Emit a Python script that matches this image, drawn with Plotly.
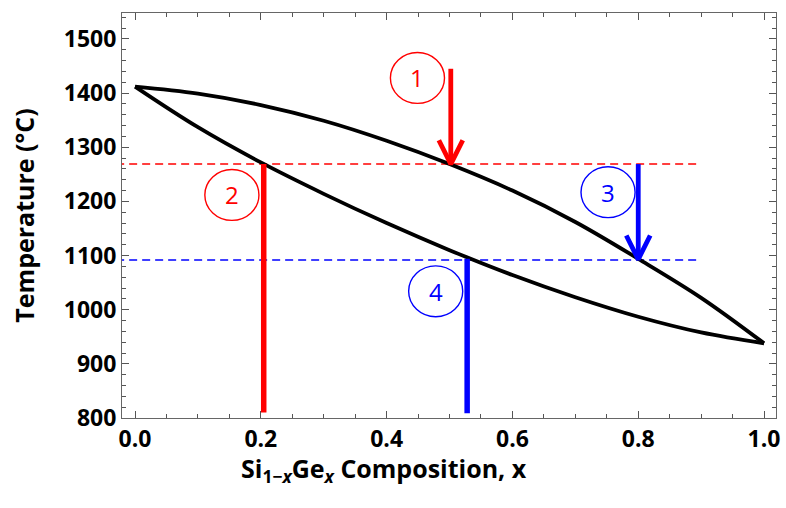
import plotly.graph_objects as go

# Liquidus (upper) and solidus (lower) curves
comp = [0.0, 0.1, 0.2, 0.3, 0.4, 0.5, 0.6, 0.7, 0.8, 0.9, 1.0]
liquidus = [1412, 1399, 1378, 1349, 1312, 1269, 1220, 1162, 1094, 1022, 938]
solidus = [1412, 1337, 1272, 1214, 1160, 1110, 1064, 1023, 987, 958, 938]

# Horizontal tie lines
tie_T = [1269, 1092]
tie_x = [-0.03, 0.893]
tie_colors = ["#ff0000", "#0000ff"]

# Vertical composition lines (solid composition)
vert_x = [0.2046, 0.528]
vert_top = [1269, 1094]
vert_bottom = [810, 809]

# Arrows (step 1 and 3)
arrow_x = [0.502, 0.80]
arrow_top = [1445, 1269]
arrow_tip = [1269, 1093]
arrow_colors = ["#ff0000", "#0000ff"]
head_dx = 0.019
head_dy = 44

# Numbered circles
labels = ["1", "2", "3", "4"]
label_x = [0.449, 0.154, 0.752, 0.478]
label_y = [1428, 1212, 1217, 1034]
label_colors = ["#ff0000", "#ff0000", "#0000ff", "#0000ff"]
circ_w = 0.086
circ_h = 94

x_ticks = [0, 0.2, 0.4, 0.6, 0.8, 1.0]
y_ticks = [800, 900, 1000, 1100, 1200, 1300, 1400, 1500]
x_title = "Si<sub>1\u2212<i>x</i></sub>Ge<sub><i>x</i></sub> Composition, x"
y_title = "Temperature (°C)"

fig = go.Figure()

for T, c in zip(tie_T, tie_colors):
    fig.add_trace(go.Scatter(x=tie_x, y=[T, T], mode="lines",
                             line=dict(color=c, width=1.5, dash="8px,5px"),
                             showlegend=False, hoverinfo="skip"))

fig.add_trace(go.Scatter(x=comp, y=liquidus, mode="lines", line_shape="spline",
                         line=dict(color="black", width=3.8), showlegend=False))
fig.add_trace(go.Scatter(x=comp, y=solidus, mode="lines", line_shape="spline",
                         line=dict(color="black", width=3.8), showlegend=False))

for xv, t, b, c in zip(vert_x, vert_top, vert_bottom, tie_colors):
    fig.add_trace(go.Scatter(x=[xv, xv], y=[t, b], mode="lines",
                             line=dict(color=c, width=5.5),
                             showlegend=False, hoverinfo="skip"))

for xv, t, tip, c in zip(arrow_x, arrow_top, arrow_tip, arrow_colors):
    fig.add_trace(go.Scatter(
        x=[xv, xv, None, xv - head_dx, xv, xv + head_dx],
        y=[t, tip, None, tip + head_dy, tip, tip + head_dy],
        mode="lines", line=dict(color=c, width=4.8),
        showlegend=False, hoverinfo="skip"))

for lab, lx, ly, c in zip(labels, label_x, label_y, label_colors):
    fig.add_shape(type="circle", xref="x", yref="y",
                  x0=lx - circ_w / 2, x1=lx + circ_w / 2,
                  y0=ly - circ_h / 2, y1=ly + circ_h / 2,
                  line=dict(color=c, width=1.4))
    fig.add_annotation(x=lx, y=ly, text=lab, showarrow=False,
                       font=dict(family="Open Sans", size=24, color=c))

# x-axis title (placed left of centre as in the original)
fig.add_annotation(xref="paper", yref="paper", x=0.4006, y=-0.128,
                   xanchor="center", yanchor="middle", showarrow=False,
                   text=x_title,
                   font=dict(family="Open Sans", size=25, color="black", weight="bold"))

axis_common = dict(
    showline=True, linecolor="#666666", linewidth=1, mirror="ticks",
    ticks="inside", ticklen=7, tickcolor="#555555", tickwidth=1,
    showgrid=False, zeroline=False, automargin=False,
    tickfont=dict(family="Open Sans", size=23, color="black", weight="bold"),
)

fig.update_xaxes(range=[-0.0207, 1.019], tickvals=x_ticks,
                 tickformat=".1f",
                 minor=dict(dtick=0.05, ticks="inside", ticklen=4, tickcolor="#555555"),
                 **axis_common)
fig.update_yaxes(range=[800, 1548], tickvals=y_ticks,
                 minor=dict(dtick=20, ticks="inside", ticklen=4, tickcolor="#555555"),
                 title=dict(text=y_title,
                            font=dict(family="Open Sans", size=25, color="black", weight="bold"),
                            standoff=22),
                 **axis_common)

fig.update_layout(width=786, height=508, margin=dict(l=122, r=10, t=13, b=90),
                  plot_bgcolor="white", paper_bgcolor="white")

fig.write_html("out.html", config={"displayModeBar": False},
               post_script="document.body.style.margin='0';")
